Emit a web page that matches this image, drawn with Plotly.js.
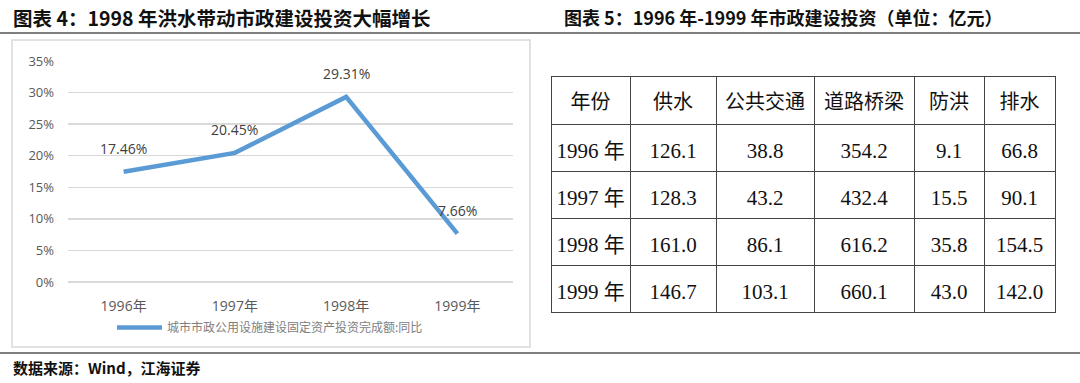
<!DOCTYPE html>
<html>
<head>
<meta charset="utf-8">
<script src="https://cdn.plot.ly/plotly-3.0.1.min.js"></script>
<style>
html,body{margin:0;padding:0;background:#fff;}
#chart{width:1080px;height:383px;}
</style>
</head>
<body>
<div id="chart"></div>
<script>
// ---- Chart 4 data ----
const years = ['1996年', '1997年', '1998年', '1999年'];
const growth = [17.46, 20.45, 29.31, 7.66];
const seriesName = '城市市政公用设施建设固定资产投资完成额:同比';

// ---- Table 5 data ----
const tableHeader = ['年份', '供水', '公共交通', '道路桥梁', '防洪', '排水'];
const tableYears = ['1996\u00a0年', '1997\u00a0年', '1998\u00a0年', '1999\u00a0年'];
const waterSupply = [126.1, 128.3, 161.0, 146.7];
const publicTransit = [38.8, 43.2, 86.1, 103.1];
const roadsBridges = [354.2, 432.4, 616.2, 660.1];
const floodControl = [9.1, 15.5, 35.8, 43.0];
const drainage = [66.8, 90.1, 154.5, 142.0];

const W = 1080, H = 383;
const px = x => x / W;
const py = y => 1 - y / H;

const fmt = arr => arr.map(v => v.toFixed(1));
const colWidths = [79, 86, 98, 100, 70, 71];
const TOP = 76, TEXT_SHIFT = 10;

const lineTrace = {
  type: 'scatter',
  mode: 'lines',
  x: years,
  y: growth,
  name: seriesName,
  line: {color: '#5B9BD5', width: 4.5},
  xaxis: 'x', yaxis: 'y',
  hoverinfo: 'skip'
};

const cellValues = [tableYears, fmt(waterSupply), fmt(publicTransit), fmt(roadsBridges), fmt(floodControl), fmt(drainage)];
const blank = arr => arr.map(() => '');
const cellFont = {family: 'Liberation Serif, Noto Sans CJK SC', size: 21, color: '#111'};
const headFont = {family: 'Liberation Serif, Noto Sans CJK SC', size: 20, color: '#111'};

// grid of the table (cell borders only)
const tableGrid = {
  type: 'table',
  domain: {x: [px(551), px(1055)], y: [py(340), py(TOP)]},
  columnwidth: colWidths,
  header: {values: blank(tableHeader), height: 48, align: 'center', font: headFont,
    line: {color: '#444', width: 1}, fill: {color: '#ffffff'}},
  cells: {values: cellValues.map(blank), height: 47, align: 'center', font: cellFont,
    line: {color: '#444', width: 1}, fill: {color: '#ffffff'}}
};
// text layer of the same table, nudged down to centre text vertically
const tableText = {
  type: 'table',
  domain: {x: [px(551), px(1055)], y: [py(340 + TEXT_SHIFT), py(TOP + TEXT_SHIFT)]},
  columnwidth: colWidths,
  header: {values: tableHeader, height: 48, align: 'center', font: headFont,
    line: {color: 'rgba(0,0,0,0)', width: 0}, fill: {color: 'rgba(0,0,0,0)'}},
  cells: {values: cellValues, height: 47, align: 'center', font: cellFont,
    line: {color: 'rgba(0,0,0,0)', width: 0}, fill: {color: 'rgba(0,0,0,0)'}}
};

const labelAnnotations = years.map((c, i) => ({
  x: c, y: growth[i], xref: 'x', yref: 'y',
  text: growth[i].toFixed(2) + '%',
  showarrow: false,
  yshift: 23,
  font: {family: 'Open Sans, Noto Sans', size: 14, color: '#404040'}
}));

const layout = {
  width: W, height: H,
  margin: {l: 0, r: 0, t: 0, b: 0},
  paper_bgcolor: '#ffffff',
  plot_bgcolor: '#ffffff',
  showlegend: true,
  legend: {
    orientation: 'h',
    x: px(112), y: py(313), xanchor: 'left', yanchor: 'top',
    itemwidth: 45,
    font: {family: 'Noto Sans CJK SC', size: 12, color: '#808080'},
    bgcolor: 'rgba(0,0,0,0)'
  },
  xaxis: {
    domain: [px(68), px(513)],
    anchor: 'y',
    type: 'category',
    range: [-0.5, 3.5],
    showgrid: false, zeroline: false, showline: false,
    ticks: '',
    ticklabelstandoff: 14,
    tickfont: {family: 'Open Sans, Noto Sans CJK SC', size: 14, color: '#595959'},
    fixedrange: true
  },
  yaxis: {
    domain: [py(282), py(61)],
    anchor: 'x',
    range: [0, 35],
    dtick: 5,
    ticksuffix: '%',
    showgrid: true, gridcolor: '#d9d9d9', gridwidth: 1.5,
    zeroline: true, zerolinecolor: '#d9d9d9', zerolinewidth: 1.5,
    showline: false,
    ticks: '',
    ticklabelstandoff: 13,
    tickfont: {family: 'Open Sans, Noto Sans', size: 13, color: '#595959'},
    fixedrange: true
  },
  shapes: [
    {type: 'line', xref: 'paper', yref: 'paper', x0: 0, x1: 1, y0: py(33), y1: py(33), line: {color: '#555', width: 1.5}},
    {type: 'line', xref: 'paper', yref: 'paper', x0: 0, x1: 1, y0: py(353), y1: py(353), line: {color: '#555', width: 1.5}},
    {type: 'rect', xref: 'paper', yref: 'paper', x0: px(12), x1: px(530), y0: py(347), y1: py(40), line: {color: '#d9d9d9', width: 1.5}}
  ],
  annotations: labelAnnotations.concat([
    {xref: 'paper', yref: 'paper', x: px(11), y: py(17), xanchor: 'left', yanchor: 'middle', showarrow: false,
     text: '<b>图表 4：1998 年洪水带动市政建设投资大幅增长</b>', font: {family: 'Noto Sans CJK SC', size: 19.5, color: '#111'}},
    {xref: 'paper', yref: 'paper', x: px(562), y: py(17), xanchor: 'left', yanchor: 'middle', showarrow: false,
     text: '<b>图表 5：1996 年-1999 年市政建设投资（单位：亿元）</b>', font: {family: 'Noto Sans CJK SC', size: 18, color: '#111'}},
    {xref: 'paper', yref: 'paper', x: px(11), y: py(367), xanchor: 'left', yanchor: 'middle', showarrow: false,
     text: '<b>数据来源：Wind，江海证券</b>', font: {family: 'Noto Sans CJK SC', size: 15, color: '#111'}}
  ])
};

Plotly.newPlot('chart', [lineTrace, tableGrid, tableText], layout, {displayModeBar: false, staticPlot: true});
</script>
</body>
</html>
